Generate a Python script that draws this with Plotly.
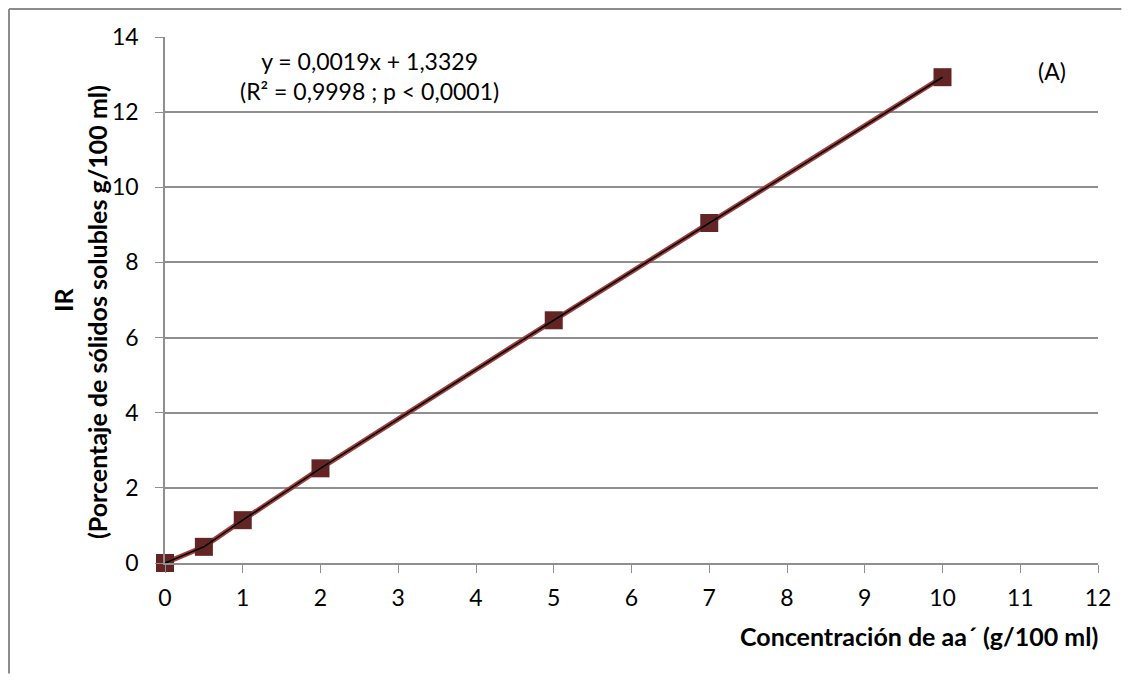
import plotly.graph_objects as go

conc = [0, 0.5, 1, 2, 5, 7, 10]
ir = [0.0, 0.43, 1.14, 2.52, 6.46, 9.05, 12.93]
x_ticks = list(range(0, 13))
y_ticks = list(range(0, 15, 2))
eq_text = "y = 0,0019x + 1,3329<br>(R² = 0,9998 ; p < 0,0001)"
x_title = "Concentración de aa´ (g/100 ml)"
y_title1 = "IR"
y_title2 = "(Porcentaje de sólidos solubles g/100 ml)"
panel = "(A)"

FONT = "Lato"
GRID = "#8f8f8f"
BORDER = "#8c8c8c"

fig = go.Figure()
fig.add_trace(go.Scatter(x=conc, y=ir, mode="lines+markers",
                         line=dict(color="#a03c3a", width=5),
                         marker=dict(symbol="square", size=18, color="#632523"),
                         cliponaxis=False,
                         showlegend=False, hoverinfo="skip"))
fig.add_trace(go.Scatter(x=conc, y=ir, mode="lines",
                         line=dict(color="#000000", width=1.6),
                         cliponaxis=False,
                         showlegend=False, hoverinfo="skip"))

bx = -0.1672
by = 1.0532
fig.update_layout(
    width=1115, height=668,
    margin=dict(l=157, r=25, t=29, b=113),
    paper_bgcolor="white", plot_bgcolor="white",
    font=dict(family=FONT, size=23, color="#000000"),
    xaxis=dict(range=[0, 12], tickvals=x_ticks, ticks="outside", ticklen=8,
               tickcolor=GRID, showgrid=False, showline=True, linecolor=GRID,
               linewidth=1.5, zeroline=False, tickfont=dict(size=23),
               ticklabelstandoff=6),
    yaxis=dict(range=[0, 14], tickvals=y_ticks, ticks="outside", ticklen=8,
               tickcolor=GRID, showgrid=True, gridcolor=GRID, gridwidth=1.5,
               showline=True, linecolor=GRID, linewidth=1.5, zeroline=False,
               tickfont=dict(size=23), ticklabelstandoff=12),
    shapes=[
        dict(type="line", xref="paper", yref="paper", x0=bx, x1=bx,
             y0=-0.21, y1=by, line=dict(color=BORDER, width=2), layer="below"),
        dict(type="line", xref="paper", yref="paper", x0=bx, x1=1.025,
             y0=by, y1=by, line=dict(color=BORDER, width=2), layer="below"),
    ],
    annotations=[
        dict(text=eq_text, x=0.2197, y=12.97, xref="paper", yref="y",
             xanchor="center", yanchor="middle",
             showarrow=False, font=dict(size=23), align="center"),
        dict(text=panel, x=11.41, y=13.1, xref="x", yref="y",
             xanchor="center", yanchor="middle",
             showarrow=False, font=dict(size=23)),
        dict(text="<b>" + x_title + "</b>", x=1.002, y=-0.139, xref="paper",
             yref="paper", xanchor="right", yanchor="middle",
             showarrow=False, font=dict(size=25)),
        dict(text="<b>" + y_title1 + "</b>", x=(63 - 165) / 933, y=0.5,
             xref="paper", yref="paper", textangle=-90, showarrow=False,
             font=dict(size=25), xanchor="center", yanchor="middle"),
        dict(text="<b>" + y_title2 + "</b>", x=(97 - 165) / 933, y=0.477,
             xref="paper", yref="paper", textangle=-90, showarrow=False,
             font=dict(size=25), xanchor="center", yanchor="middle"),
    ],
)

fig.write_html("out.html")
